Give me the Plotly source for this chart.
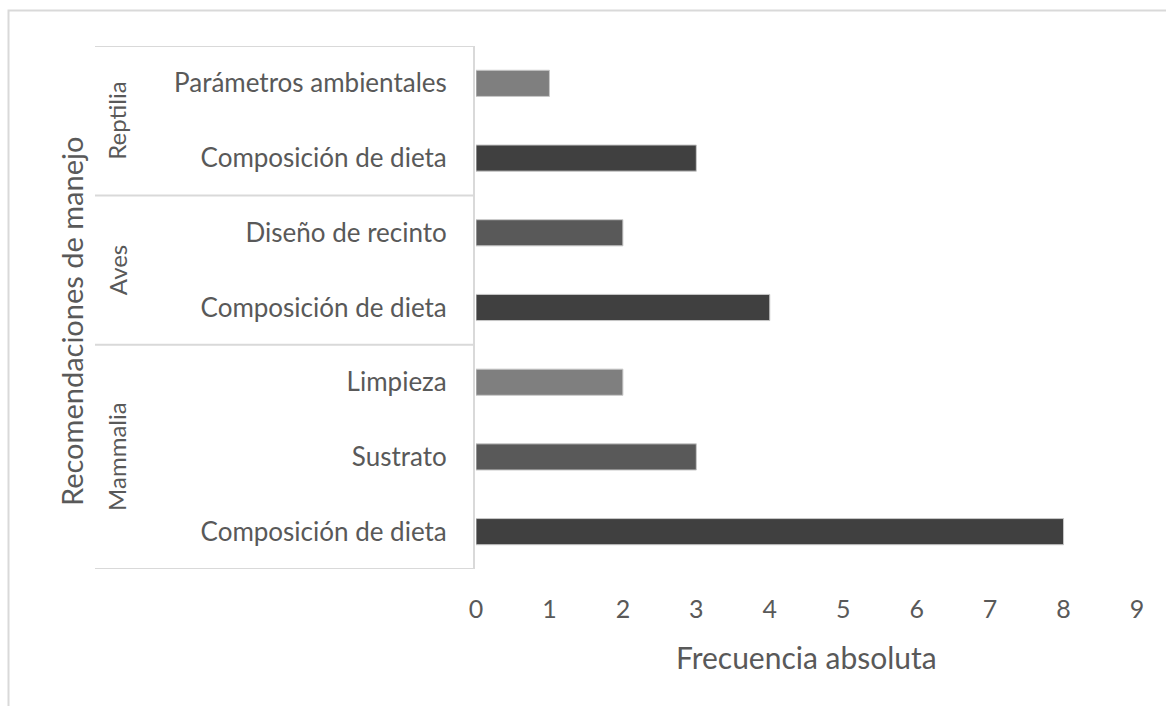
import plotly.graph_objects as go

groups = ["Mammalia", "Mammalia", "Mammalia", "Aves", "Aves", "Reptilia", "Reptilia"]
labels = ["Composición de dieta", "Sustrato", "Limpieza",
          "Composición de dieta", "Diseño de recinto",
          "Composición de dieta", "Parámetros ambientales"]
values = [8, 3, 2, 4, 2, 3, 1]
colors = ["#404040", "#595959", "#7f7f7f", "#404040", "#595959", "#404040", "#7f7f7f"]
group_names = ["Mammalia", "Aves", "Reptilia"]
x_ticks = [0, 1, 2, 3, 4, 5, 6, 7, 8, 9]

FONT = "Lato"
TXT = "#595959"
LINE = "#d9d9d9"

pos = list(range(len(values)))

fig = go.Figure(go.Bar(
    x=values, y=pos, orientation="h",
    marker=dict(color=colors, line=dict(color="#c8c8c8", width=1)),
    width=0.35, hoverinfo="x",
))

L, R, T, B = 476, 29, 46, 137
W, H = 1166, 706
pw = W - L - R
ph = H - T - B

def px_x(p):
    return (p - L) / pw

def px_y(p):
    return (H - B - p) / ph

shapes = []
# chart border (top and left visible)
shapes.append(dict(type="rect", xref="paper", yref="paper",
                   x0=px_x(8.5), x1=px_x(1200), y0=px_y(720), y1=px_y(10.5),
                   line=dict(color=LINE, width=2), fillcolor="rgba(0,0,0,0)", layer="below"))
# category box vertical line
shapes.append(dict(type="line", xref="paper", yref="y", x0=px_x(474), x1=px_x(474),
                   y0=-0.5, y1=len(values) - 0.5, line=dict(color=LINE, width=2)))
# group boundaries
bounds = [-0.5]
count = 0
for g in group_names:
    count += groups.count(g)
    bounds.append(count - 0.5)
for b in bounds:
    shapes.append(dict(type="line", xref="paper", yref="y", x0=px_x(95), x1=px_x(474),
                       y0=b, y1=b, line=dict(color=LINE, width=2)))

annotations = []
for i, g in enumerate(group_names):
    mid = (bounds[i] + bounds[i + 1]) / 2
    annotations.append(dict(text=g, xref="paper", yref="y", x=px_x(117), y=mid,
                            textangle=-90, showarrow=False, xanchor="center", yanchor="middle",
                            font=dict(family=FONT, size=24, color=TXT)))
annotations.append(dict(text="Recomendaciones de manejo", xref="paper", yref="paper",
                        x=px_x(71), y=px_y(322), textangle=-90, showarrow=False,
                        xanchor="center", yanchor="middle",
                        font=dict(family=FONT, size=29, color=TXT)))
annotations.append(dict(text="Frecuencia absoluta", xref="paper", yref="paper",
                        x=0.5, y=px_y(657), showarrow=False,
                        xanchor="center", yanchor="middle",
                        font=dict(family=FONT, size=30, color=TXT)))

fig.update_layout(
    width=W, height=H,
    margin=dict(l=L, r=R, t=T, b=B, pad=0),
    paper_bgcolor="white", plot_bgcolor="white",
    showlegend=False,
    shapes=shapes, annotations=annotations,
    xaxis=dict(range=[0, 9], tickvals=x_ticks, ticktext=[str(v) for v in x_ticks],
               showgrid=False, zeroline=False, showline=False,
               ticks="outside", ticklen=18, tickcolor="rgba(0,0,0,0)",
               tickfont=dict(family=FONT, size=25, color=TXT)),
    yaxis=dict(range=[-0.5, len(values) - 0.5], tickvals=pos, ticktext=labels,
               showgrid=False, zeroline=False, showline=False,
               ticks="outside", ticklen=23, tickcolor="rgba(0,0,0,0)",
               tickfont=dict(family=FONT, size=26, color=TXT)),
)

fig.write_html("out.html")
